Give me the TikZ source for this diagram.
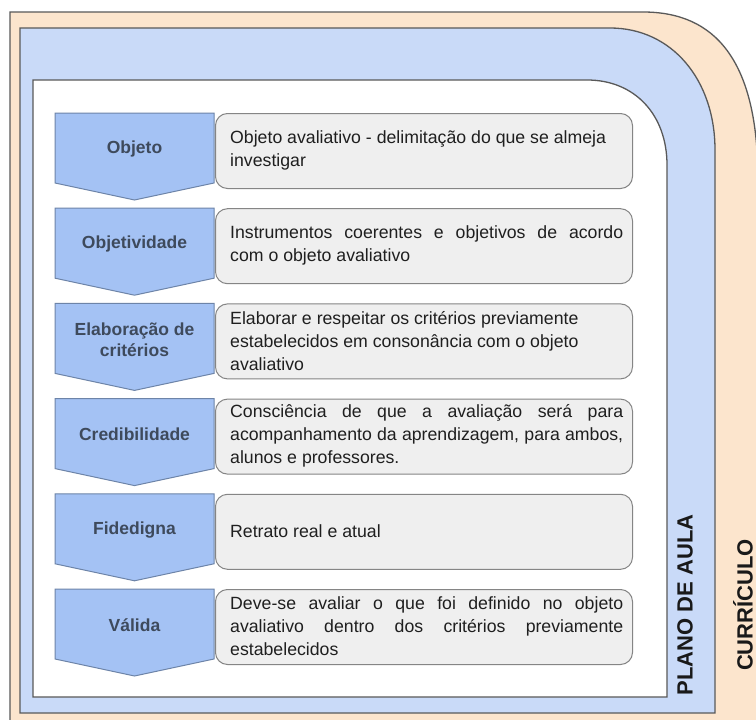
\documentclass[tikz,border=0pt]{standalone}
\usepackage{fontspec}
\setmainfont{Liberation Sans}
\definecolor{orangefill}{HTML}{FCE5CD}
\definecolor{bluefill}{HTML}{C9DAF8}
\definecolor{chevfill}{HTML}{A4C2F4}
\definecolor{chevline}{HTML}{6D84A8}
\definecolor{chevtext}{HTML}{3E4A5C}
\definecolor{boxfill}{HTML}{EFEFEF}
\definecolor{boxline}{HTML}{858585}
\definecolor{frameline}{HTML}{595959}
\newcommand{\jline}[1]{\makebox[393pt][s]{#1}}
\begin{document}
\begin{tikzpicture}[x=1pt,y=-1pt,
  frame/.style={draw=frameline,line width=1.3pt},
  chevron/.style={draw=chevline,fill=chevfill,line width=1pt,line join=miter},
  chevlabel/.style={font=\bfseries\fontsize{17.5}{21}\selectfont,text=chevtext,align=center,inner sep=0pt},
  tbox/.style={draw=boxline,fill=boxfill,line width=1pt,rounded corners=12pt,minimum width=417pt,minimum height=75pt,anchor=north west,inner sep=0pt},
  btext/.style={anchor=west,align=left,inner sep=0pt,font=\fontsize{17.7}{23}\selectfont,text=black!88},
  sidelabel/.style={rotate=90,font=\bfseries\fontsize{22}{24}\selectfont,text=black!90,inner sep=0pt}]

\useasboundingbox (0,0) rectangle (756,720);
\fill[white] (0,0) rectangle (756,720);

% frames
\draw[frame,fill=orangefill] (10,724) -- (10,12) -- (643,12) .. controls (715,12) and (758,60) .. (758,180) -- (758,724);
\draw[frame,fill=bluefill] (20,713) -- (20,28) -- (610,28) .. controls (672,28) and (715,80) .. (715,150) -- (715,713) -- cycle;
\draw[frame,fill=white] (33,697) -- (33,80) -- (587,80) .. controls (635,80) and (667,115) .. (667,165) -- (667,697) -- cycle;

% chevrons
\foreach \i/\lab in {0/Objeto,1/Objetividade,2/{Elaboração de\\critérios},3/Credibilidade,4/Fidedigna,5/Válida}{
  \pgfmathsetmacro{\yt}{113+95.2*\i}
  \draw[chevron] (55,\yt) -- (214,\yt) -- (214,\yt+70) -- (134.5,\yt+87) -- (55,\yt+70) -- cycle;
  \node[chevlabel] (c\i) at (134.5,\yt+36) {\lab};
  \node[tbox] (b\i) at (215,\yt) {};
}

% texts
\node[btext] (t0) at (230,150.5) {Objeto avaliativo - delimitação do que se almeja\\investigar};
\node[btext] (t1) at (230,245.7) {\jline{Instrumentos coerentes e objetivos de acordo}\\com o objeto avaliativo};
\node[btext] (t2) at (230,340.9) {Elaborar e respeitar os critérios previamente\\estabelecidos em consonância com o objeto\\avaliativo};
\node[btext] (t3) at (230,436.1) {\jline{Consciência de que a avaliação será para}\\\jline{acompanhamento da aprendizagem, para ambos,}\\alunos e professores.};
\node[btext] (t4) at (230,531.3) {Retrato real e atual};
\node[btext] (t5) at (230,626.5) {\jline{Deve-se avaliar o que foi definido no objeto}\\\jline{avaliativo dentro dos critérios previamente}\\estabelecidos};

% side labels
\node[sidelabel] (plano) at (685,605) {PLANO DE AULA};
\node[sidelabel] (curriculo) at (743,605) {CURRÍCULO};
\end{tikzpicture}
\end{document}
